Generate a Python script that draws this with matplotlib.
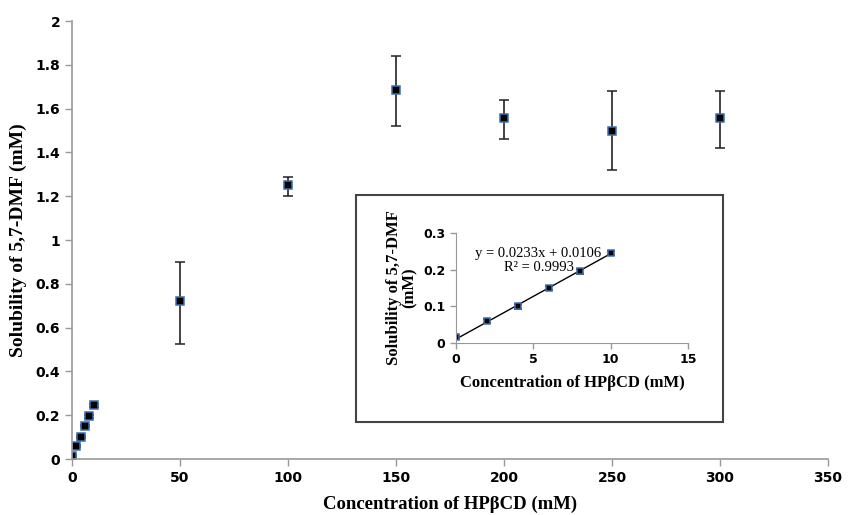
import matplotlib.pyplot as plt
import matplotlib.patches as patches
import numpy as np

# main data
conc = [0, 2, 4, 6, 8, 10, 50, 100, 150, 200, 250, 300]
solub = [0.015, 0.06, 0.10, 0.15, 0.195, 0.245, 0.72, 1.25, 1.685, 1.555, 1.50, 1.555]
err_lo = [0.004, 0.005, 0.006, 0.005, 0.008, 0.006, 0.195, 0.05, 0.165, 0.095, 0.18, 0.135]
err_hi = [0.004, 0.005, 0.006, 0.005, 0.008, 0.006, 0.18, 0.04, 0.155, 0.085, 0.18, 0.125]

# inset data (linear region)
conc_in = [0, 2, 4, 6, 8, 10]
solub_in = [0.015, 0.06, 0.10, 0.15, 0.195, 0.245]
err_in = [0.004, 0.005, 0.006, 0.005, 0.008, 0.006]
slope, intercept = 0.0233, 0.0106

tick_font = {"family": "DejaVu Sans", "weight": "bold"}
label_font = {"family": "Liberation Serif", "weight": "bold"}
spine_col = "#999999"

fig = plt.figure(figsize=(8.48, 5.15), dpi=100)
ax = fig.add_axes([0.0849, 0.1087, 0.8915, 0.8505])

ax.errorbar(conc, solub, yerr=[err_lo, err_hi], fmt="s", color="black",
            ecolor="#222222", elinewidth=1.2, capsize=3.5, capthick=1.2,
            markersize=5.5, markerfacecolor="black", markeredgecolor="#3c6fb0",
            markeredgewidth=1.1)

ax.set_xlim(0, 350)
ax.set_ylim(0, 2)
ax.set_xticks(np.arange(0, 351, 50))
ax.set_yticks([0, 0.2, 0.4, 0.6, 0.8, 1, 1.2, 1.4, 1.6, 1.8, 2])
ax.set_yticklabels(["0", "0.2", "0.4", "0.6", "0.8", "1", "1.2", "1.4", "1.6", "1.8", "2"])
for lab in ax.get_xticklabels() + ax.get_yticklabels():
    lab.set_fontproperties(tick_font)
    lab.set_fontsize(10)
ax.tick_params(direction="out", length=5, color=spine_col, width=1)
for s in ["top", "right"]:
    ax.spines[s].set_visible(False)
for s in ["left", "bottom"]:
    ax.spines[s].set_color(spine_col)
    ax.spines[s].set_linewidth(1.2)

ax.set_xlabel("Concentration of HPβCD (mM)", fontsize=13.5, labelpad=8, **label_font)
ax.set_ylabel("Solubility of 5,7-DMF (mM)", fontsize=14, labelpad=6, **label_font)

# inset box
box = patches.Rectangle((0.4198, 0.1806), 0.4328, 0.4408, transform=fig.transFigure,
                        fill=True, facecolor="white", edgecolor="#444444",
                        linewidth=1.5, zorder=5)
fig.patches.append(box)

axi = fig.add_axes([0.5377, 0.334, 0.2736, 0.2136])
axi.set_zorder(10)
xl = np.array([0, 10])
axi.plot(xl, slope * xl + intercept, color="black", linewidth=1)
axi.errorbar(conc_in, solub_in, yerr=err_in, fmt="s", color="black",
             ecolor="#222222", elinewidth=1, capsize=3, capthick=1,
             markersize=5, markerfacecolor="black", markeredgecolor="#3c6fb0",
             markeredgewidth=1.1)
axi.set_xlim(0, 15)
axi.set_ylim(0, 0.3)
axi.set_xticks([0, 5, 10, 15])
axi.set_yticks([0, 0.1, 0.2, 0.3])
axi.set_yticklabels(["0", "0.1", "0.2", "0.3"])
for lab in axi.get_xticklabels() + axi.get_yticklabels():
    lab.set_fontproperties(tick_font)
    lab.set_fontsize(9)
axi.tick_params(direction="out", length=4, color=spine_col, width=1)
for s in ["top", "right"]:
    axi.spines[s].set_visible(False)
for s in ["left", "bottom"]:
    axi.spines[s].set_color(spine_col)
axi.set_xlabel("Concentration of HPβCD (mM)", fontsize=12, labelpad=6, **label_font)
axi.set_ylabel("Solubility of 5,7-DMF\n(mM)", fontsize=12, labelpad=4,
               linespacing=1.0, **label_font)
axi.text(5.3, 0.245, "y = 0.0233x + 0.0106", fontsize=10.5, ha="center",
         va="center", family="Liberation Serif")
axi.text(5.4, 0.207, "R² = 0.9993", fontsize=10.5, ha="center",
         va="center", family="Liberation Serif")

fig.savefig("out.png", dpi=100)
